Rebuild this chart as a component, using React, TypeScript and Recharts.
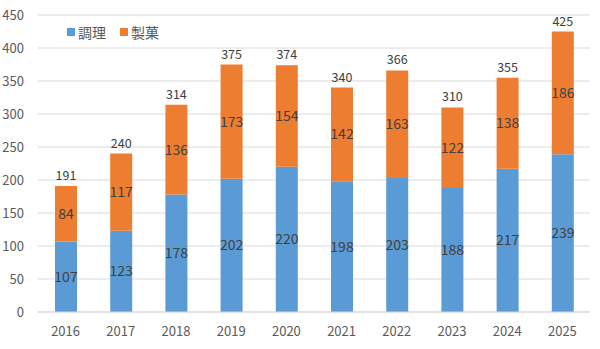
import React from "react";
import { BarChart, Bar, XAxis, YAxis, CartesianGrid, LabelList } from "recharts";

const years = ["2016", "2017", "2018", "2019", "2020", "2021", "2022", "2023", "2024", "2025"];
const cooking = [107, 123, 178, 202, 220, 198, 203, 188, 217, 239];
const confectionery = [84, 117, 136, 173, 154, 142, 163, 122, 138, 186];
const yTicks = [0, 50, 100, 150, 200, 250, 300, 350, 400, 450];
const seriesNames = ["調理", "製菓"];
const seriesColors = ["#5B9BD5", "#ED7D31"];

const data = years.map((y, i) => ({
  year: y,
  cooking: cooking[i],
  confectionery: confectionery[i],
  total: cooking[i] + confectionery[i],
}));

const FONT = "'Noto Sans CJK JP', 'Noto Sans', sans-serif";

export default function App() {
  return (
    <div style={{ position: "absolute", left: 0, top: 0, width: 600, height: 349, background: "#fff", fontFamily: FONT }}>
      <BarChart
        width={600}
        height={349}
        data={data}
        margin={{ top: 15, right: 10, left: 0, bottom: 0 }}
        barSize={22}
      >
        <CartesianGrid vertical={false} stroke="#d9d9d9" />
        <XAxis
          dataKey="year"
          height={37}
          tickLine={false}
          axisLine={{ stroke: "#d9d9d9" }}
          tick={{ fill: "#595959", fontSize: 13, fontFamily: FONT }}
          tickMargin={9}
        />
        <YAxis
          width={38}
          domain={[0, 450]}
          ticks={yTicks}
          tickLine={false}
          axisLine={false}
          tick={{ fill: "#595959", fontSize: 13, fontFamily: FONT }}
          tickMargin={8}
        />
        <Bar dataKey="cooking" name={seriesNames[0]} stackId="a" fill={seriesColors[0]} isAnimationActive={false}>
          <LabelList dataKey="cooking" position="center" fill="#404040" fontSize={14} fontFamily={FONT} />
        </Bar>
        <Bar dataKey="confectionery" name={seriesNames[1]} stackId="a" fill={seriesColors[1]} isAnimationActive={false}>
          <LabelList dataKey="confectionery" position="center" fill="#404040" fontSize={14} fontFamily={FONT} />
          <LabelList dataKey="total" position="top" offset={6} fill="#404040" fontSize={12.5} fontFamily={FONT} />
        </Bar>
      </BarChart>
      <div style={{ position: "absolute", left: 67, top: 23, display: "flex", alignItems: "center", fontSize: 14, color: "#595959", lineHeight: "18px" }}>
        {seriesNames.map((n, i) => (
          <div key={n} style={{ display: "flex", alignItems: "center", marginRight: 14 }}>
            <span style={{ display: "inline-block", width: 8, height: 8, background: seriesColors[i], marginRight: 3 }} />
            <span>{n}</span>
          </div>
        ))}
      </div>
    </div>
  );
}
